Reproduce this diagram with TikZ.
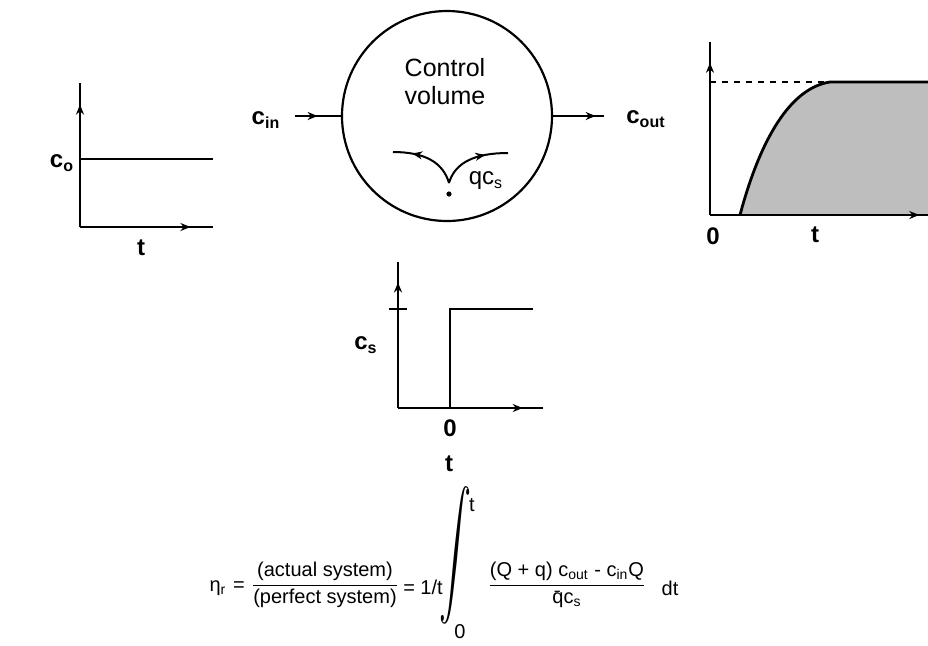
\documentclass[tikz,border=0pt]{standalone}
\usepackage{amsmath}
\usepackage{graphicx}
\usepackage{fontspec}
\setmainfont{Liberation Sans}
\usetikzlibrary{arrows.meta,positioning,decorations.markings}
\definecolor{shadegray}{RGB}{190,190,190}

\tikzset{
  axis/.style={line width=1.4pt},
  flow/.style={line width=1pt},
  midarrow/.style={postaction={decorate},decoration={markings,mark=at position #1 with {\arrow{Stealth[length=5pt,width=4pt]}}}},
  midarrow/.default=0.5,
  lbl/.style={font=\fontsize{12}{14}\selectfont\bfseries,inner sep=1pt},
  eqn/.style={font=\fontsize{10}{12}\selectfont,inner sep=1pt},
}

\begin{document}
\begin{tikzpicture}[x=0.5pt,y=-0.5pt]
    \useasboundingbox (0,0) rectangle (928,645);
    % left graph: inflow concentration
    \coordinate (lo) at (80,227);
    \draw[axis,midarrow=0.85] (lo) -- (80,83);
    \draw[axis,midarrow=0.83] (lo) -- (213,227);
    \draw[axis] (80,159) -- (213,159);
    \node[lbl] (co) at (62,163) {c\textsubscript{o}};
    \node[lbl] (tl) at (141,248) {t};
    % control volume
    \node[circle,draw,line width=1.1pt,minimum size=105pt,inner sep=0pt] (cv) at (447,116) {};
    \node[font=\fontsize{12.5}{14}\selectfont,align=center] (cvtext) at (445,82) {Control\\volume};
    \node[lbl] (cin) at (266,120) {c\textsubscript{in}};
    \node[lbl] (cout) at (646,119) {c\textsubscript{out}};
    \draw[flow,midarrow=0.6,shorten <=6pt] (cin.east |- cv.west) -- (cv.west);
    \draw[flow,midarrow=0.6,shorten >=10pt] (cv.east) -- (cout.west |- cv.east);
    % source inside the volume
    \coordinate (vtip) at (449,183);
    \draw[flow,midarrow=0.72] (vtip) .. controls (443,162) and (424,152) .. (393,152);
    \draw[flow,midarrow=0.68] (vtip) .. controls (455,162) and (476,153) .. (508,153);
    \fill (449,194) circle (2.6);
    \node[font=\fontsize{12}{14}\selectfont,inner sep=1pt] (qcs) at (486,181) {qc\textsubscript{s}};
    % right graph: outflow response
    \coordinate (ro) at (710,215);
    \fill[shadegray] (740,215) .. controls (760,140) and (790,88) .. (830,82) -- (928,82) -- (928,215) -- cycle;
    \draw[axis] (740,215) .. controls (760,140) and (790,88) .. (830,82) -- (928,82);
    \draw[axis,dashed] (710,82) -- (830,82);
    \draw[axis,midarrow=0.88] (ro) -- (710,42);
    \draw[axis,midarrow=0.96] (ro) -- (928,215);
    \node[lbl] (r0) at (713,236) {0};
    \node[lbl] (rt) at (815,235) {t};
    % middle graph: source step
    \coordinate (mo) at (398,408);
    \draw[axis,midarrow=0.86] (mo) -- (398,262);
    \draw[axis,midarrow=0.86] (mo) -- (543,408);
    \draw[axis] (389,309) -- (407,309);
    \draw[axis] (450,408) -- (450,309) -- (533,309);
    \node[lbl] (csl) at (366,345) {c\textsubscript{s}};
    \node[lbl] (m0) at (450,428) {0};
    \node[lbl] (mt) at (449,464) {t};
    % removal efficiency
    \node[eqn] (eta) at (218,588) {η\textsubscript{r}};
    \node[eqn] (eq1) at (239,587) {=};
    \node[eqn] (frac1) at (325,585) {$\dfrac{\text{(actual system)}}{\text{(perfect system)}}$};
    \node[eqn] (eq2) at (423,587) {= 1/t};
    \node[eqn,inner sep=0pt] (intg) at (455,555) {\scalebox{1.6}[3.1]{$\displaystyle\int$}};
    \node[eqn] (upl) at (472,505) {t};
    \node[eqn] (lol) at (460,632) {0};
    \node[eqn] (frac2) at (567,585) {$\dfrac{\text{(Q + q) c\textsubscript{out} - c\textsubscript{in}Q}}{\text{\=qc\textsubscript{s}}}$};
    \node[eqn] (dt) at (670,588) {dt};
\end{tikzpicture}
\end{document}
